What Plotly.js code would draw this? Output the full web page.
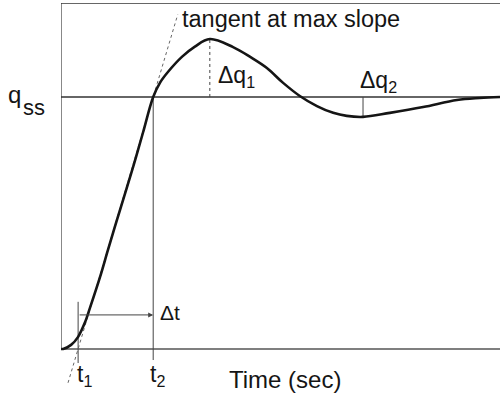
<!DOCTYPE html>
<html>
<head>
<meta charset="utf-8">
<script src="https://cdn.plot.ly/plotly-3.0.1.min.js"></script>
<style>
  html, body { margin: 0; padding: 0; background: #fff; }
  #chart { width: 500px; height: 403px; }
</style>
</head>
<body>
<div id="chart"></div>
<script>
// Step response of an underdamped process (output normalised to q_ss = 1)
const timeSec = [0, 0.05, 0.23, 0.39, 0.55, 0.66, 0.89, 1.07, 1.28, 1.50, 1.69, 1.87, 2.10,
                 2.26, 2.44, 2.76, 3.05, 3.39, 3.92, 4.31, 4.69, 5.06, 5.44, 5.83, 6.20, 6.51,
                 6.88, 7.49, 8.25, 9.02, 9.54, 10.0];
const response = [0, 0, 0.016, 0.048, 0.107, 0.163, 0.286, 0.393, 0.515, 0.640, 0.750, 0.860, 1.0,
                  1.058, 1.100, 1.160, 1.200, 1.230, 1.198, 1.159, 1.115, 1.056, 1.004, 0.964, 0.937, 0.925,
                  0.921, 0.937, 0.960, 0.988, 0.996, 1.0];

// Characteristic points of the response
const qss = 1.0;
const t1 = 0.39;              // tangent meets the zero line
const t2 = 2.10;              // tangent meets q_ss
const tPeak = 3.39, qPeak = 1.230;
const tDip = 6.88, qDip = 0.921;
const tangentSpan = [0.16, 2.66];

const xMax = 10.0;
const yTop = 1.373, yBottom = -0.163;

const tangentY = tangentSpan.map(t => (t - t1) / (t2 - t1) * qss);

const ink = '#151515';
const thin = '#444';
const FONT = 'Liberation Sans, Arial, Helvetica, sans-serif';

const traces = [
  { x: tangentSpan, y: tangentY, mode: 'lines',
    line: { color: '#666', width: 1, dash: 'dot' }, hoverinfo: 'skip' },
  { x: timeSec, y: response, mode: 'lines',
    line: { color: ink, width: 2.6, shape: 'spline', smoothing: 1 }, hoverinfo: 'skip' }
];

function seg(x0, y0, x1, y1, color, width, dash) {
  return { type: 'line', xref: 'x', yref: 'y', x0, y0, x1, y1,
           line: { color, width, dash: dash || 'solid' }, layer: 'below' };
}

const shapes = [
  seg(0, 0, 0, yTop, '#555', 1.4),                   // left frame
  seg(0, yTop, xMax, yTop, '#333', 1.6),             // top frame
  seg(0, 0, xMax, 0, '#555', 1.4),                   // time axis
  seg(0, qss, xMax, qss, '#333', 1.3),               // steady-state level
  seg(t1, 0.187, t1, -0.056, thin, 1),               // t1 marker
  seg(t2, qss, t2, -0.044, thin, 1),                 // t2 marker
  seg(tPeak, qss, tPeak, qPeak, thin, 1, 'dot'),     // first overshoot
  seg(tDip, qss, tDip, qDip, thin, 1)                // second undershoot
];

const txt = (text, x, y, size, xref) => ({
  text, x, y, xref: xref || 'x', yref: 'y', showarrow: false,
  xanchor: 'left', yanchor: 'middle',
  font: { family: FONT, size: size, color: ink }
});

const annotations = [
  // delta-t arrow between t1 and t2
  { x: t2, y: 0.135, ax: t1, ay: 0.135, xref: 'x', yref: 'y', axref: 'x', ayref: 'y',
    showarrow: true, arrowhead: 2, arrowsize: 1, arrowwidth: 1, arrowcolor: thin, text: '' },
  txt('tangent at max slope', 2.72, 1.31, 23.5),
  // steady-state label sits in the left margin, so it is placed in paper units
  txt('q', -0.125, 1.01, 24, 'paper'),
  txt('ss', -0.092, 0.958, 22, 'paper'),
  txt('\u0394q<sub>1</sub>', 3.53, 1.08, 23),
  txt('\u0394q<sub>2</sub>', 6.76, 1.06, 23),
  txt('\u0394t', 2.22, 0.145, 21),
  txt('t<sub>1</sub>', 0.33, -0.105, 23),
  txt('t<sub>2</sub>', 1.98, -0.105, 23),
  txt('Time (sec)', 3.78, -0.12, 24)
];

const layout = {
  width: 500, height: 403,
  margin: { l: 61, r: 0, t: 3, b: 13 },
  paper_bgcolor: '#fff', plot_bgcolor: '#fff',
  showlegend: false,
  xaxis: { range: [0, xMax], visible: false, fixedrange: true },
  yaxis: { range: [yBottom, yTop], visible: false, fixedrange: true },
  shapes, annotations
};

Plotly.newPlot('chart', traces, layout, { staticPlot: true, displayModeBar: false });
</script>
</body>
</html>
